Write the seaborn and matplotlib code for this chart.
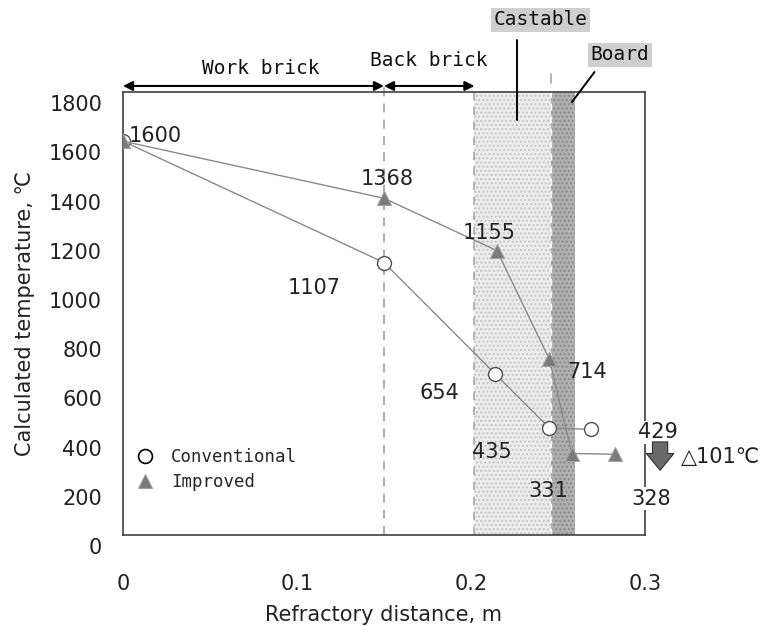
import numpy as np
import pandas as pd
import matplotlib
matplotlib.use("Agg")
import matplotlib.pyplot as plt
import matplotlib.transforms as mtransforms
from matplotlib.lines import Line2D
import seaborn as sns

# values
pos_conv = [0.0, 0.15, 0.214, 0.245, 0.269]
temp_conv = [1600, 1107, 654, 435, 429]
pos_imp = [0.0, 0.15, 0.215, 0.245, 0.258, 0.283]
temp_imp = [1600, 1368, 1155, 714, 331, 328]
layer_edges = [0.0, 0.15, 0.202, 0.246, 0.26]
layer_names = ["Work brick", "Back brick", "Castable", "Board"]
series_names = ["Conventional", "Improved"]
x_ticks = [0, 0.1, 0.2, 0.3]
x_ticklabels = ["0", "0.1", "0.2", "0.3"]
y_ticks = list(range(0, 1801, 200))

# label offsets (points) next to each marker
off_conv = [(23, 4), (-50, -18), (-40, -14), (-41, -17), (48, -2)]
off_imp = [None, (2, 14), (-6, 13), (27, -9), (-17, -27), (26, -32)]

sns.set_theme(style="white")
plt.rcParams["font.family"] = ["DejaVu Sans"]
plt.rcParams["font.size"] = 15
mono = "DejaVu Sans Mono"
dark = "#404040"

fig = plt.figure(figsize=(7.63, 6.26), dpi=100)
ax = fig.add_axes([0.1612, 0.1454, 0.6841, 0.7077])
xt = ax.get_xaxis_transform()

# layers
ax.axvspan(layer_edges[2], layer_edges[3], facecolor="#ececec", edgecolor="#c4c4c4",
           hatch="....", lw=0, zorder=0.5)
ax.axvspan(layer_edges[3], layer_edges[4], facecolor="#b0b0b0", edgecolor="#8a8a8a",
           hatch="....", lw=0, zorder=0.5)
ax.plot([layer_edges[1]] * 2, [0, 1.0135], transform=xt, color="#a8a8a8", lw=1.3,
        ls=(0, (5, 4)), clip_on=False, zorder=1)
ax.plot([layer_edges[2]] * 2, [0, 1], transform=xt, color="#a8a8a8", lw=1.2,
        ls=(0, (5, 4)), zorder=1)
ax.plot([layer_edges[3]] * 2, [0, 1], transform=xt, color="white", lw=1,
        ls=(0, (5, 4)), zorder=1)
ax.plot([layer_edges[3]] * 2, [1.02, 1.04], transform=xt, color="#a8a8a8", lw=1.2,
        clip_on=False)

# series
sns.lineplot(x=pos_conv, y=temp_conv, ax=ax, sort=False, color="#8a8a8a", lw=1,
             marker="o", markersize=10, markerfacecolor="white",
             markeredgecolor="#505050", markeredgewidth=1, zorder=3)
sns.lineplot(x=pos_imp, y=temp_imp, ax=ax, sort=False, color="#8a8a8a", lw=1,
             marker="^", markersize=10, markerfacecolor="#7a7a7a",
             markeredgecolor="#a0a0a0", markeredgewidth=0.8, zorder=4)

for x, y, off in zip(pos_conv, temp_conv, off_conv):
    box = dict(fc="white", ec="none", pad=1) if x == pos_conv[-1] else None
    ax.annotate(str(y), (x, y), xytext=off, textcoords="offset points",
                ha="center", va="center", color="#222222", bbox=box,
                annotation_clip=False, zorder=6)
for x, y, off in zip(pos_imp, temp_imp, off_imp):
    if off is None:
        continue
    box = dict(fc="white", ec="none", pad=1) if x == pos_imp[-1] else None
    ax.annotate(str(y), (x, y), xytext=off, textcoords="offset points",
                ha="center", va="center", color="#222222", bbox=box,
                annotation_clip=False, zorder=6)

# drop arrow and difference
ax.annotate("", xy=(1.029, 0.146), xytext=(1.029, 0.21), xycoords="axes fraction",
            arrowprops=dict(arrowstyle="simple,head_length=0.55,head_width=0.9,tail_width=0.5",
                            fc="#6a6a6a", ec="#303030", lw=0.8, shrinkA=0, shrinkB=0,
                            mutation_scale=22), zorder=7)
ax.text(1.144, 0.176, "\u25b3%d\u2103" % (temp_conv[-1] - temp_imp[-1]),
        transform=ax.transAxes, ha="center", va="center", color="#222222")

# layer annotations above the frame
ax.annotate("", xy=(layer_edges[1], 1.0135), xytext=(layer_edges[0], 1.0135), xycoords=xt,
            arrowprops=dict(arrowstyle="<|-|>", color="black", lw=1.5, shrinkA=0,
                            shrinkB=0, mutation_scale=14), annotation_clip=False)
ax.annotate("", xy=(layer_edges[2], 1.0135), xytext=(layer_edges[1], 1.0135), xycoords=xt,
            arrowprops=dict(arrowstyle="<|-|>", color="black", lw=1.5, shrinkA=0,
                            shrinkB=0, mutation_scale=14), annotation_clip=False)
ax.text(0.0793, 1.054, layer_names[0], transform=xt, ha="center", va="center",
        family=mono, size=14, color="#111111")
ax.text(0.176, 1.070, layer_names[1], transform=xt, ha="center", va="center",
        family=mono, size=14, color="#111111")
ax.text(0.240, 1.163, layer_names[2], transform=xt, ha="center", va="center",
        family=mono, size=14, color="#111111",
        bbox=dict(fc="#cfcfcf", ec="none", pad=2))
ax.text(0.2855, 1.0835, layer_names[3], transform=xt, ha="center", va="center",
        family=mono, size=14, color="#111111",
        bbox=dict(fc="#cfcfcf", ec="none", pad=2))
ax.plot([0.2264, 0.2264], [1.117, 0.937], transform=xt, color="black", lw=1.4,
        clip_on=False, zorder=5)
ax.plot([0.271, 0.258], [1.045, 0.977], transform=xt, color="black", lw=1.4,
        clip_on=False, zorder=5)

# legend
handles = [Line2D([], [], ls="none", marker="o", markersize=10, markerfacecolor="white",
                  markeredgecolor="black", markeredgewidth=1.2),
           Line2D([], [], ls="none", marker="^", markersize=10, markerfacecolor="#7a7a7a",
                  markeredgecolor="#a0a0a0", markeredgewidth=0.8)]
ax.legend(handles, series_names, loc="upper left", bbox_to_anchor=(0.026, 0.197),
          frameon=False, prop={"family": mono, "size": 12.5}, handlelength=1.0,
          handletextpad=1.0, labelspacing=0.4, borderaxespad=0, borderpad=0)

# axes
ax.set_xlim(0, 0.3)
ax.set_ylim(0, 1800)
ax.set_xticks(x_ticks, x_ticklabels)
ax.set_yticks(y_ticks)
ax.tick_params(axis="both", direction="in", length=5, width=1, color=dark,
               labelsize=15, labelcolor="#222222")
ax.tick_params(axis="x", pad=28)
ax.tick_params(axis="y", pad=15)
shift = mtransforms.ScaledTranslation(0, -8 / 72, fig.dpi_scale_trans)
for lbl in ax.get_yticklabels():
    lbl.set_transform(lbl.get_transform() + shift)
for sp in ax.spines.values():
    sp.set_color(dark)
    sp.set_linewidth(1.2)
ax.set_xlabel("Refractory distance, m", fontsize=15, color="#222222", labelpad=8)
ax.set_ylabel("Calculated temperature, \u2103", fontsize=15, color="#222222", labelpad=10)

fig.savefig("out.png", dpi=100)
